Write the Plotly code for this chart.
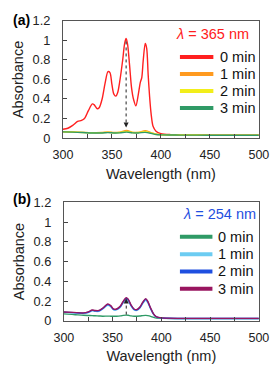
import plotly.graph_objects as go

# ---------------- data ----------------
# Panel (a): irradiation at 365 nm
wl_a_red = [300, 305, 310, 315, 319, 322, 326, 330, 332, 335, 337, 340, 343, 346, 348, 350, 352,
            354, 356, 358, 361, 363, 364.5, 366, 368, 370, 372, 374.5, 377, 379, 380.5, 382, 384,
            385.5, 387, 388.5, 390, 392, 395, 400, 410, 450, 500]
abs_a_0 = [0.09, 0.10, 0.13, 0.17, 0.18, 0.20, 0.28, 0.35, 0.34, 0.30, 0.31, 0.40, 0.56, 0.68, 0.67,
           0.55, 0.45, 0.43, 0.47, 0.58, 0.80, 0.97, 1.02, 0.96, 0.75, 0.52, 0.40, 0.33, 0.45, 0.57,
           0.62, 0.80, 0.97, 0.92, 0.65, 0.42, 0.25, 0.12, 0.07, 0.045, 0.035, 0.03, 0.03]

wl_low = [300, 310, 320, 330, 340, 346, 352, 358, 365, 371, 377, 384, 390, 395, 400, 420, 450, 500]
abs_a_1 = [0.065, 0.062, 0.058, 0.055, 0.056, 0.062, 0.056, 0.060, 0.078, 0.058, 0.058, 0.076, 0.055, 0.040, 0.035, 0.032, 0.030, 0.030]
abs_a_2 = [0.064, 0.061, 0.057, 0.054, 0.055, 0.058, 0.054, 0.057, 0.068, 0.056, 0.056, 0.066, 0.052, 0.038, 0.034, 0.031, 0.030, 0.030]
abs_a_3 = [0.063, 0.060, 0.056, 0.052, 0.052, 0.055, 0.052, 0.053, 0.060, 0.053, 0.052, 0.058, 0.048, 0.036, 0.032, 0.030, 0.029, 0.029]

# Panel (b): irradiation at 254 nm
wl_b = [300, 310, 320, 325, 329, 332, 336, 340, 345, 348, 351, 354, 358, 361, 364, 366, 369, 372,
        375, 378, 381, 384, 386, 389, 392, 395, 400, 450, 500]
abs_b_3 = [0.090, 0.085, 0.080, 0.090, 0.110, 0.105, 0.105, 0.130, 0.170, 0.155, 0.120, 0.120, 0.150,
           0.200, 0.235, 0.220, 0.160, 0.120, 0.115, 0.140, 0.190, 0.225, 0.200, 0.130, 0.070, 0.040,
           0.030, 0.025, 0.025]
abs_b_2 = [0.088, 0.083, 0.078, 0.087, 0.106, 0.101, 0.101, 0.126, 0.165, 0.150, 0.116, 0.116, 0.145,
           0.194, 0.228, 0.213, 0.155, 0.116, 0.111, 0.135, 0.184, 0.218, 0.194, 0.126, 0.068, 0.039,
           0.029, 0.024, 0.024]
abs_b_1 = [0.085, 0.080, 0.075, 0.083, 0.101, 0.096, 0.096, 0.120, 0.157, 0.143, 0.111, 0.111, 0.138,
           0.185, 0.217, 0.203, 0.148, 0.111, 0.106, 0.129, 0.176, 0.208, 0.185, 0.120, 0.065, 0.037,
           0.028, 0.023, 0.023]
abs_b_0 = [0.070, 0.064, 0.056, 0.054, 0.053, 0.051, 0.049, 0.047, 0.048, 0.047, 0.046, 0.047, 0.050,
           0.055, 0.058, 0.056, 0.050, 0.047, 0.047, 0.049, 0.053, 0.055, 0.052, 0.045, 0.035, 0.028,
           0.025, 0.022, 0.022]

times = ["0 min", "1 min", "2 min", "3 min"]
x_ticks = [300, 350, 400, 450, 500]
y_ticks = [0, 0.2, 0.4, 0.6, 0.8, 1.0, 1.2]

colors_a = ["#ff2020", "#ff9a1f", "#f2ee1a", "#2f9a66"]
colors_b = ["#2f9a66", "#6cccf2", "#1f4fe0", "#99155f"]

# ---------------- figure ----------------
W, H = 280, 371
fig = go.Figure()

series_a = [(wl_a_red, abs_a_0), (wl_low, abs_a_1), (wl_low, abs_a_2), (wl_low, abs_a_3)]
series_b = [(wl_b, abs_b_0), (wl_b, abs_b_1), (wl_b, abs_b_2), (wl_b, abs_b_3)]

for (xs, ys), c, name in zip(series_a, colors_a, times):
    fig.add_trace(go.Scatter(x=xs, y=ys, mode="lines", name=name, showlegend=False,
                             line=dict(color=c, width=1.4, shape="spline", smoothing=0.8),
                             xaxis="x", yaxis="y"))
for (xs, ys), c, name in zip(series_b, colors_b, times):
    fig.add_trace(go.Scatter(x=xs, y=ys, mode="lines", name=name, showlegend=False,
                             line=dict(color=c, width=1.4, shape="spline", smoothing=0.8),
                             xaxis="x2", yaxis="y2"))

def px_y(p):
    return 1 - p / H

def px_x(p):
    return p / W

font = "Liberation Sans, Arial, sans-serif"
axis_common = dict(range=[300, 500], tickvals=x_ticks, ticks="inside", ticklen=4, tickcolor="#444",
                   showline=True, linecolor="#555", linewidth=1, mirror=True, showgrid=False,
                   zeroline=False, tickfont=dict(size=12.5, color="#222", family=font),
                   ticklabelstandoff=5,
                   minor=dict(dtick=25, ticks="inside", ticklen=4, tickcolor="#444"),
                   title=dict(text="Wavelength (nm)", font=dict(size=14.5, color="#222", family=font), standoff=7))
yaxis_common = dict(range=[0, 1.2], tickvals=y_ticks, ticks="inside", ticklen=4, tickcolor="#444",
                    showline=True, linecolor="#555", linewidth=1, mirror=True, showgrid=False,
                    zeroline=False, tickfont=dict(size=12.8, color="#222", family=font),
                    ticklabelstandoff=9,
                    title=dict(text="Absorbance", font=dict(size=14.5, color="#222", family=font), standoff=5))

fig.update_layout(
    width=W, height=H, margin=dict(l=0, r=0, t=0, b=0),
    paper_bgcolor="white", plot_bgcolor="white", showlegend=False,
    font=dict(family=font, color="#222"),
    xaxis=dict(domain=[px_x(57), px_x(268)], anchor="y", **axis_common),
    yaxis=dict(domain=[px_y(135.5), px_y(13.5)], anchor="x", **yaxis_common),
    xaxis2=dict(domain=[px_x(58), px_x(268)], anchor="y2", **axis_common),
    yaxis2=dict(domain=[px_y(326), px_y(202.5)], anchor="x2", **yaxis_common),
)

annotations = []
shapes = []

# panel labels
annotations.append(dict(text="<b>(a)</b>", x=px_x(1), y=px_y(12), xref="paper", yref="paper",
                        xanchor="left", yanchor="middle", showarrow=False, font=dict(size=14, color="#000")))
annotations.append(dict(text="<b>(b)</b>", x=px_x(1), y=px_y(199), xref="paper", yref="paper",
                        xanchor="left", yanchor="middle", showarrow=False, font=dict(size=14, color="#000")))

# legend headers
annotations.append(dict(text="<i>λ</i> = 365 nm", x=px_x(177), y=px_y(27), xref="paper", yref="paper",
                        xanchor="left", yanchor="middle", showarrow=False, font=dict(size=14.5, color="#ff2020")))
annotations.append(dict(text="<i>λ</i> = 254 nm", x=px_x(184), y=px_y(215), xref="paper", yref="paper",
                        xanchor="left", yanchor="middle", showarrow=False, font=dict(size=14.5, color="#1f4fe0")))

# legends (line samples + labels)
def legend(y0, dy, colors, x_line0, x_line1, x_text):
    for i, (c, name) in enumerate(zip(colors, times)):
        yy = px_y(y0 + i * dy)
        shapes.append(dict(type="line", xref="paper", yref="paper", x0=px_x(x_line0), x1=px_x(x_line1),
                           y0=yy, y1=yy, line=dict(color=c, width=4)))
        annotations.append(dict(text=name, x=px_x(x_text), y=yy, xref="paper", yref="paper",
                                xanchor="left", yanchor="middle", showarrow=False,
                                font=dict(size=14.5, color="#111")))

legend(51, 17.7, colors_a, 183, 219, 224)
legend(238.5, 18, colors_b, 183, 218, 222)

# dashed arrows at the 365 nm band, derived from the data
peak_i = max(range(len(abs_a_0)), key=lambda i: abs_a_0[i])
x_pk = wl_a_red[peak_i]
y_top_a = abs_a_0[peak_i] - 0.03
y_bot_a = max(abs_a_1) + 0.03
shapes.append(dict(type="line", xref="x", yref="y", x0=x_pk, x1=x_pk, y0=y_top_a, y1=y_bot_a + 0.03,
                   line=dict(color="#222", width=1, dash="dot")))
annotations.append(dict(x=x_pk, y=y_bot_a, ax=x_pk, ay=y_bot_a + 0.06, xref="x", yref="y", axref="x", ayref="y",
                        text="", showarrow=True, arrowhead=2, arrowsize=1, arrowwidth=1, arrowcolor="#222"))

pk_b = max(range(len(abs_b_3)), key=lambda i: abs_b_3[i])
x_pk_b = wl_b[pk_b]
y_top_b = abs_b_3[pk_b] - 0.01
y_bot_b = abs_b_0[pk_b] + 0.005
shapes.append(dict(type="line", xref="x2", yref="y2", x0=x_pk_b, x1=x_pk_b, y0=y_bot_b, y1=y_top_b - 0.03,
                   line=dict(color="#222", width=1, dash="dot")))
annotations.append(dict(x=x_pk_b, y=y_top_b, ax=x_pk_b, ay=y_top_b - 0.06, xref="x2", yref="y2", axref="x2", ayref="y2",
                        text="", showarrow=True, arrowhead=2, arrowsize=1, arrowwidth=1, arrowcolor="#222"))

fig.update_layout(annotations=annotations, shapes=shapes)
fig.write_html("out.html", config={"displayModeBar": False},
               post_script="document.body.style.margin='0';document.body.style.overflow='hidden';")
